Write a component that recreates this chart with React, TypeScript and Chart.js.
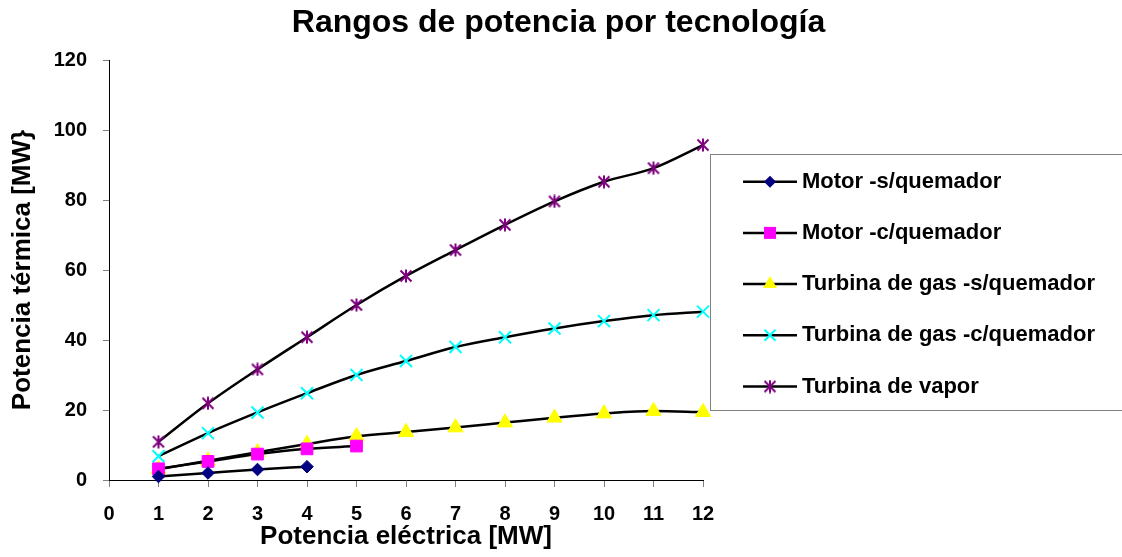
import React, { useEffect, useRef } from 'react';
import { Chart, registerables } from 'chart.js';

Chart.register(...registerables);

// ---- Data ----
const chartTitle = 'Rangos de potencia por tecnología';
const xAxisTitle = 'Potencia eléctrica [MW]';
const yAxisTitle = 'Potencia térmica [MW}';
const xValues = [1, 2, 3, 4, 5, 6, 7, 8, 9, 10, 11, 12];
const seriesNames = [
  'Motor -s/quemador',
  'Motor -c/quemador',
  'Turbina de gas -s/quemador',
  'Turbina de gas -c/quemador',
  'Turbina de vapor',
];
const motorSinQuemador = [1.0, 2.0, 3.0, 3.8];
const motorConQuemador = [3.2, 5.3, 7.4, 8.9, 9.7];
const turbinaGasSinQuemador = [3.1, 5.5, 7.9, 10.3, 12.5, 13.7, 15.0, 16.4, 17.8, 19.0, 19.7, 19.4];
const turbinaGasConQuemador = [6.8, 13.4, 19.3, 24.8, 30.0, 34.0, 38.0, 40.8, 43.3, 45.4, 47.1, 48.1];
const turbinaVapor = [10.9, 21.9, 31.6, 40.8, 50.0, 58.3, 65.7, 72.9, 79.6, 85.2, 89.1, 95.7];
const xMin = 0;
const xMax = 12;
const xStep = 1;
const yMin = 0;
const yMax = 120;
const yStep = 20;

const FONT = '"Liberation Sans", Arial, Helvetica, sans-serif';
const markerColors = ['#000080', '#FF00FF', '#FFFF00', '#00FFFF', '#800080'];

function toPoints(values: number[]) {
  return values.map((v, i) => ({ x: xValues[i], y: v }));
}

function makeStarImage(): HTMLCanvasElement {
  const c = document.createElement('canvas');
  c.width = 14;
  c.height = 14;
  const g = c.getContext('2d')!;
  g.strokeStyle = '#800080';
  g.lineWidth = 2;
  g.beginPath();
  g.moveTo(1.5, 1.5);
  g.lineTo(12.5, 12.5);
  g.moveTo(12.5, 1.5);
  g.lineTo(1.5, 12.5);
  g.moveTo(7, 0.5);
  g.lineTo(7, 13.5);
  g.stroke();
  return c;
}

function drawMarker(ctx: CanvasRenderingContext2D, idx: number, x: number, y: number, star: HTMLCanvasElement) {
  const col = markerColors[idx];
  ctx.save();
  ctx.fillStyle = col;
  ctx.strokeStyle = col;
  ctx.beginPath();
  if (idx === 0) {
    const r = 6;
    ctx.moveTo(x - r, y);
    ctx.lineTo(x, y - r);
    ctx.lineTo(x + r, y);
    ctx.lineTo(x, y + r);
    ctx.closePath();
    ctx.fill();
  } else if (idx === 1) {
    const s = 6;
    ctx.rect(x - s, y - s, 2 * s, 2 * s);
    ctx.fill();
  } else if (idx === 2) {
    const r = 8;
    ctx.moveTo(x, y - r);
    ctx.lineTo(x + r * 0.866, y + r / 2);
    ctx.lineTo(x - r * 0.866, y + r / 2);
    ctx.closePath();
    ctx.fill();
  } else if (idx === 3) {
    const d = 5.5;
    ctx.lineWidth = 2;
    ctx.moveTo(x - d, y - d);
    ctx.lineTo(x + d, y + d);
    ctx.moveTo(x + d, y - d);
    ctx.lineTo(x - d, y + d);
    ctx.stroke();
  } else {
    ctx.drawImage(star, x - 7, y - 7);
  }
  ctx.restore();
}

export default function App() {
  const canvasRef = useRef<HTMLCanvasElement | null>(null);

  useEffect(() => {
    const canvas = canvasRef.current;
    if (!canvas) return;
    const star = makeStarImage();

    const overlayPlugin = {
      id: 'overlay',
      afterDraw(chart: any) {
        const ctx: CanvasRenderingContext2D = chart.ctx;
        ctx.save();
        // Title
        ctx.fillStyle = '#000';
        ctx.font = `bold 32px ${FONT}`;
        ctx.textAlign = 'center';
        ctx.textBaseline = 'middle';
        ctx.fillText(chartTitle, 558.5, 23.5);
        // Legend box
        ctx.strokeStyle = '#808080';
        ctx.lineWidth = 1;
        ctx.strokeRect(710.5, 154.5, 420, 256);
        ctx.font = `bold 22px ${FONT}`;
        ctx.textAlign = 'left';
        for (let i = 0; i < seriesNames.length; i++) {
          const y = 181.7 + i * 51.2;
          ctx.strokeStyle = '#000';
          ctx.lineWidth = 2.5;
          ctx.beginPath();
          ctx.moveTo(743, y);
          ctx.lineTo(797, y);
          ctx.stroke();
          drawMarker(ctx, i, 770, y, star);
          ctx.fillStyle = '#000';
          ctx.fillText(seriesNames[i], 802, y);
        }
        ctx.restore();
      },
    };

    const common = {
      borderColor: '#000000',
      borderWidth: 2.5,
      fill: false,
      cubicInterpolationMode: 'monotone' as const,
      clip: false as const,
    };

    const chart = new Chart(canvas, {
      type: 'line',
      data: {
        datasets: [
          {
            ...common,
            label: seriesNames[0],
            data: toPoints(motorSinQuemador),
            pointStyle: 'rectRot',
            pointRadius: 6.3,
            pointBackgroundColor: markerColors[0],
            pointBorderColor: markerColors[0],
            pointBorderWidth: 1,
          },
          {
            ...common,
            label: seriesNames[1],
            data: toPoints(motorConQuemador),
            pointStyle: 'rect',
            pointRadius: 8.3,
            pointBackgroundColor: markerColors[1],
            pointBorderColor: markerColors[1],
            pointBorderWidth: 1,
          },
          {
            ...common,
            label: seriesNames[2],
            data: toPoints(turbinaGasSinQuemador),
            pointStyle: 'triangle',
            pointRadius: 8.7,
            pointBackgroundColor: markerColors[2],
            pointBorderColor: markerColors[2],
            pointBorderWidth: 1,
          },
          {
            ...common,
            label: seriesNames[3],
            data: toPoints(turbinaGasConQuemador),
            pointStyle: 'crossRot',
            pointRadius: 8.5,
            pointBackgroundColor: markerColors[3],
            pointBorderColor: markerColors[3],
            pointBorderWidth: 2,
          },
          {
            ...common,
            label: seriesNames[4],
            data: toPoints(turbinaVapor),
            pointStyle: star as any,
            pointRadius: 7,
            pointBackgroundColor: markerColors[4],
            pointBorderColor: markerColors[4],
          },
        ],
      },
      options: {
        animation: false,
        responsive: false,
        maintainAspectRatio: false,
        layout: { padding: { top: 60, right: 419, bottom: 0, left: 0 } },
        plugins: {
          legend: { display: false },
          title: { display: false },
          tooltip: { enabled: false },
        },
        scales: {
          x: {
            type: 'linear',
            position: 'bottom',
            min: xMin,
            max: xMax,
            afterFit: (s: any) => {
              s.height = 77;
            },
            ticks: {
              stepSize: xStep,
              color: '#000',
              padding: 15,
              font: { family: FONT, size: 20, weight: 'bold' },
            },
            grid: {
              display: true,
              drawOnChartArea: false,
              drawTicks: true,
              tickLength: 7,
              tickColor: '#808080',
            },
            border: { display: true, color: '#000', width: 1 },
            title: {
              display: true,
              text: xAxisTitle,
              color: '#000',
              font: { family: FONT, size: 26, weight: 'bold' },
              padding: { top: 0, bottom: 4.7 },
            },
          },
          y: {
            type: 'linear',
            min: yMin,
            max: yMax,
            afterFit: (s: any) => {
              s.width = 109;
            },
            ticks: {
              stepSize: yStep,
              color: '#000',
              padding: 16,
              font: { family: FONT, size: 20, weight: 'bold' },
            },
            grid: {
              display: true,
              drawOnChartArea: false,
              drawTicks: true,
              tickLength: 6,
              tickColor: '#808080',
            },
            border: { display: true, color: '#000', width: 1 },
            title: {
              display: true,
              text: yAxisTitle,
              color: '#000',
              font: { family: FONT, size: 26, weight: 'bold' },
              padding: { top: 7.4, bottom: 0 },
            },
          },
        },
      },
      plugins: [overlayPlugin],
    });

    return () => {
      chart.destroy();
    };
  }, []);

  return (
    <div style={{ position: 'absolute', left: 0, top: 0, width: 1122, height: 557, background: '#fff' }}>
      <canvas ref={canvasRef} width={1122} height={557} style={{ display: 'block' }} />
    </div>
  );
}
